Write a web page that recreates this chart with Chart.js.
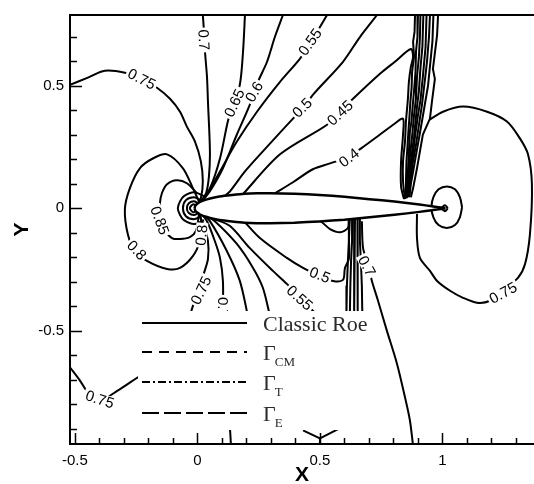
<!DOCTYPE html>
<html>

<head>
    <title>Mach Contours - Classic Roe</title>
    <script src="https://cdn.jsdelivr.net/npm/chart.js"></script>
    <style>
        body {
            margin: 0;
            background: #fff;
        }

        #wrap {
            width: 534px;
            height: 484px;
        }
    </style>
</head>

<body>
    <div id="wrap"><canvas id="contour-chart" width="534" height="484"></canvas></div>

    <script>
        // axis ticks
        const xTickValues = [-0.5, 0, 0.5, 1];
        const yTickValues = [-0.5, 0, 0.5];
        const xMinorTicks = [-0.5, -0.4, -0.3, -0.2, -0.1, 0, 0.1, 0.2, 0.3, 0.4, 0.5, 0.6, 0.7, 0.8, 0.9, 1, 1.1, 1.2, 1.3];
        const yMinorTicks = [-0.9, -0.8, -0.7, -0.6, -0.5, -0.4, -0.3, -0.2, -0.1, 0, 0.1, 0.2, 0.3, 0.4, 0.5, 0.6, 0.7];

        // airfoil stations and half thickness
        const airfoilX = [-0.012, -0.008, 0.001, 0.013, 0.039, 0.065, 0.090, 0.141, 0.192, 0.243, 0.294, 0.396, 0.498, 0.600, 0.702, 0.804, 0.906, 0.957, 1.008];
        const airfoilT = [0, 0.011, 0.019, 0.027, 0.036, 0.043, 0.048, 0.054, 0.059, 0.061, 0.061, 0.059, 0.054, 0.047, 0.037, 0.027, 0.015, 0.008, 0.001];

        // contour lines above the airfoil
        const c075top = [[-0.520, 0.504], [-0.447, 0.533], [-0.378, 0.561], [-0.296, 0.553], [-0.227, 0.528], [-0.165, 0.492], [-0.112, 0.447], [-0.071, 0.394], [-0.043, 0.333], [-0.010, 0.272], [0.014, 0.191], [0.022, 0.110], [0.014, 0.041], [-0.002, 0.016]];
        const c070top = [[0.022, 0.789], [0.027, 0.720], [0.031, 0.638], [0.039, 0.537], [0.043, 0.435], [0.051, 0.232], [0.047, 0.130], [0.035, 0.061], [0.006, 0.018]];
        const c065top = [[0.194, 0.789], [0.186, 0.638], [0.173, 0.504], [0.145, 0.423], [0.124, 0.354], [0.092, 0.203], [0.051, 0.081], [0.010, 0.022]];
        const c060top = [[0.349, 0.789], [0.316, 0.699], [0.284, 0.598], [0.247, 0.516], [0.214, 0.423], [0.161, 0.301], [0.104, 0.163], [0.051, 0.069], [0.014, 0.022]];
        const c055top = [[0.529, 0.789], [0.488, 0.720], [0.459, 0.671], [0.418, 0.610], [0.337, 0.516], [0.243, 0.394], [0.161, 0.272], [0.092, 0.150], [0.039, 0.057], [0.018, 0.026]];
        const c050top = [[0.733, 0.789], [0.663, 0.699], [0.594, 0.598], [0.471, 0.463], [0.431, 0.407], [0.390, 0.366], [0.267, 0.232], [0.194, 0.150], [0.133, 0.069], [0.110, 0.049]];
        const c045top = [[0.182, 0.053], [0.337, 0.220], [0.529, 0.341], [0.582, 0.394], [0.635, 0.447], [0.745, 0.549], [0.806, 0.598], [0.871, 0.650], [0.880, 0.618], [0.871, 0.577], [0.863, 0.516], [0.859, 0.447], [0.851, 0.354], [0.847, 0.272], [0.839, 0.191], [0.839, 0.110], [0.847, 0.037]];
        const c040top = [[0.316, 0.061], [0.390, 0.106], [0.471, 0.159], [0.541, 0.183], [0.618, 0.211], [0.684, 0.256], [0.745, 0.301], [0.806, 0.346], [0.839, 0.366], [0.839, 0.301], [0.831, 0.191], [0.831, 0.089], [0.843, 0.037]];

        // upper shock bundle
        const shock1 = [[0.888, 0.789], [0.886, 0.720], [0.880, 0.679], [0.884, 0.620], [0.876, 0.557], [0.874, 0.490], [0.869, 0.435], [0.865, 0.370], [0.861, 0.313], [0.857, 0.250], [0.853, 0.191], [0.851, 0.110], [0.851, 0.041]];
        const shock2 = [[0.900, 0.789], [0.898, 0.700], [0.892, 0.640], [0.890, 0.557], [0.884, 0.480], [0.880, 0.435], [0.873, 0.350], [0.867, 0.313], [0.861, 0.191], [0.857, 0.110], [0.855, 0.041]];
        const shock3 = [[0.910, 0.789], [0.908, 0.700], [0.904, 0.620], [0.896, 0.537], [0.892, 0.450], [0.884, 0.380], [0.876, 0.293], [0.865, 0.191], [0.861, 0.110], [0.857, 0.045]];
        const shock4 = [[0.922, 0.789], [0.918, 0.659], [0.910, 0.570], [0.904, 0.480], [0.896, 0.415], [0.884, 0.293], [0.871, 0.191], [0.863, 0.110], [0.859, 0.045]];
        const shock5 = [[0.935, 0.789], [0.931, 0.659], [0.920, 0.537], [0.910, 0.440], [0.900, 0.380], [0.888, 0.293], [0.876, 0.191], [0.865, 0.110], [0.861, 0.045]];
        const shock6 = [[0.949, 0.789], [0.945, 0.700], [0.937, 0.600], [0.930, 0.537], [0.916, 0.420], [0.904, 0.340], [0.892, 0.260], [0.880, 0.191], [0.869, 0.110], [0.863, 0.045]];
        const shock7 = [[0.963, 0.789], [0.959, 0.680], [0.949, 0.580], [0.941, 0.500], [0.924, 0.400], [0.912, 0.330], [0.896, 0.240], [0.882, 0.160], [0.871, 0.100], [0.865, 0.045]];
        const shock8 = [[0.982, 0.789], [0.978, 0.707], [0.961, 0.569], [0.969, 0.528], [0.957, 0.435], [0.949, 0.366], [0.920, 0.301], [0.908, 0.232], [0.896, 0.163], [0.880, 0.081], [0.871, 0.045]];

        // trailing edge region
        const c075wake = [[0.949, 0.362], [1.002, 0.394], [1.084, 0.415], [1.182, 0.394], [1.263, 0.354], [1.316, 0.285], [1.349, 0.220], [1.365, 0.098], [1.357, -0.106], [1.337, -0.228], [1.308, -0.285], [1.247, -0.337], [1.194, -0.378], [1.141, -0.386], [1.084, -0.366], [1.031, -0.337], [0.978, -0.297], [0.949, -0.256], [0.908, -0.203], [0.896, -0.122], [0.896, -0.024]];
        const teLoop = [[1.080, 0.004], [1.071, 0.045], [1.051, 0.077], [1.018, 0.089], [0.984, 0.077], [0.963, 0.045], [0.955, 0.004], [0.963, -0.037], [0.984, -0.069], [1.018, -0.081], [1.051, -0.069], [1.071, -0.037], [1.080, 0.004]];
        const teDot = [[1.022, 0], [1.010, 0.012], [0.998, 0], [1.010, -0.012], [1.022, 0]];

        // leading edge rings and loops
        const leRing1 = [[0.027, 0.049], [-0.014, 0.065], [-0.055, 0.049], [-0.071, 0.028], [-0.080, 0], [-0.071, -0.028], [-0.055, -0.049], [-0.014, -0.065], [0.027, -0.049]];
        const leRing2 = [[0.014, 0.033], [-0.014, 0.045], [-0.047, 0.033], [-0.059, 0], [-0.047, -0.033], [-0.014, -0.045], [0.014, -0.033]];
        const leRing3 = [[0.002, 0.020], [-0.014, 0.028], [-0.035, 0.020], [-0.043, 0], [-0.035, -0.020], [-0.014, -0.028], [0.002, -0.020]];
        const leRing4 = [[-0.006, 0.012], [-0.018, 0.016], [-0.031, 0], [-0.018, -0.016], [-0.006, -0.012]];
        const c085 = [[-0.002, 0.061], [-0.043, 0.102], [-0.084, 0.114], [-0.124, 0.098], [-0.145, 0.061], [-0.153, 0.020], [-0.153, -0.033], [-0.137, -0.085], [-0.104, -0.122], [-0.071, -0.126], [-0.031, -0.118], [-0.006, -0.093], [0.006, -0.028]];
        const c080 = [[0.006, 0.028], [-0.018, 0.081], [-0.059, 0.163], [-0.124, 0.220], [-0.182, 0.203], [-0.235, 0.163], [-0.276, 0.081], [-0.296, -0.004], [-0.284, -0.106], [-0.255, -0.175], [-0.206, -0.215], [-0.124, -0.248], [-0.071, -0.244], [-0.018, -0.195], [0.010, -0.134], [0.018, -0.073], [0.010, -0.020]];

        // contour lines below the airfoil
        const c075low = [[0.002, -0.020], [0.022, -0.061], [0.043, -0.134], [0.043, -0.207], [0.027, -0.264], [0.006, -0.329], [-0.018, -0.398], [-0.031, -0.440]];
        const c070low = [[0.010, -0.016], [0.039, -0.053], [0.071, -0.134], [0.092, -0.203], [0.104, -0.297], [0.104, -0.440]];
        const c065low = [[0.018, -0.020], [0.051, -0.053], [0.120, -0.175], [0.173, -0.297], [0.206, -0.440]];
        const c060low = [[0.022, -0.020], [0.071, -0.053], [0.161, -0.146], [0.227, -0.244], [0.267, -0.325], [0.296, -0.440]];
        const c055low = [[0.071, -0.045], [0.133, -0.073], [0.214, -0.163], [0.308, -0.256], [0.365, -0.309], [0.418, -0.366], [0.471, -0.419], [0.490, -0.440]];
        const c050low = [[0.186, -0.049], [0.255, -0.122], [0.365, -0.203], [0.431, -0.244], [0.500, -0.276], [0.553, -0.297], [0.594, -0.293], [0.602, -0.244], [0.618, -0.207], [0.618, -0.114], [0.618, -0.045]];
        const c045low = [[0.418, -0.037], [0.500, -0.053], [0.541, -0.085], [0.582, -0.098], [0.614, -0.081], [0.618, -0.045]];
        const c070right = [[0.671, -0.053], [0.676, -0.163], [0.696, -0.228], [0.712, -0.297], [0.737, -0.378], [0.773, -0.500], [0.814, -0.634], [0.847, -0.772], [0.867, -0.866], [0.880, -0.970]];
        const c075left = [[-0.520, -0.650], [-0.480, -0.703], [-0.447, -0.752], [-0.398, -0.785], [-0.324, -0.744], [-0.243, -0.691], [-0.200, -0.670]];

        // lower shock bundle
        const lowShock1 = [[0.622, -0.041], [0.618, -0.134], [0.614, -0.215], [0.610, -0.317], [0.608, -0.440]];
        const lowShock2 = [[0.633, -0.041], [0.631, -0.134], [0.627, -0.215], [0.624, -0.317], [0.622, -0.440]];
        const lowShock3 = [[0.643, -0.041], [0.641, -0.134], [0.639, -0.215], [0.639, -0.317], [0.639, -0.440]];
        const lowShock4 = [[0.653, -0.041], [0.653, -0.134], [0.653, -0.215], [0.655, -0.317], [0.655, -0.440]];
        const lowShock5 = [[0.663, -0.041], [0.663, -0.134], [0.667, -0.215], [0.671, -0.317], [0.673, -0.440]];

        // pieces peeking out under the legend
        const bottomA = [[0.130, -0.850], [0.137, -0.970]];
        const bottomB = [[0.431, -0.907], [0.500, -0.940], [0.582, -0.898]];
        const bottomC = [[0.500, -0.940], [0.500, -0.970]];

        // contour level labels: text, x, y, angle
        const contourLabels = [
            ['0.75', -0.227, 0.528, 27],
            ['0.7', 0.027, 0.687, 87],
            ['0.65', 0.150, 0.430, -65],
            ['0.6', 0.231, 0.476, -60],
            ['0.55', 0.459, 0.679, -55],
            ['0.5', 0.427, 0.411, -45],
            ['0.45', 0.582, 0.390, -43],
            ['0.4', 0.618, 0.207, -38],
            ['0.85', -0.153, -0.050, 70],
            ['0.8', -0.247, -0.171, 47],
            ['0.8', 0.016, -0.110, -85],
            ['0.75', 0.014, -0.335, -65],
            ['0.7', 0.104, -0.405, 90],
            ['0.55', 0.418, -0.366, 42],
            ['0.5', 0.500, -0.272, 22],
            ['0.7', 0.692, -0.236, 62],
            ['0.75', 1.247, -0.345, -29],
            ['0.75', -0.398, -0.780, 18]
        ];

        // legend entries
        const legendNames = ['Classic Roe', '\u0393', '\u0393', '\u0393'];
        const legendSubs = ['', 'CM', 'T', 'E'];

        const smoothLines = [c075top, c070top, c065top, c060top, c055top, c050top, c045top, c040top,
            c075wake, teLoop, teDot, leRing1, leRing2, leRing3, leRing4, c085, c080,
            c075low, c070low, c065low, c060low, c055low, c050low, c045low, c070right, c075left];
        const sharpLines = [shock1, shock2, shock3, shock4, shock5, shock6, shock7, shock8,
            lowShock1, lowShock2, lowShock3, lowShock4, lowShock5, bottomA, bottomB, bottomC];
        const legendDashes = [[], [10, 7], [8, 3, 2, 3], [17, 5]];

        function toPoints(line) {
            return line.map((p) => ({ x: p[0], y: p[1] }));
        }

        function airfoilPoints() {
            const upper = airfoilX.map((x, i) => ({ x: x, y: airfoilT[i] }));
            const lower = airfoilX.map((x, i) => ({ x: x, y: -airfoilT[i] })).reverse();
            return upper.concat(lower);
        }

        const datasets = [];
        smoothLines.forEach((line) => {
            datasets.push({ data: toPoints(line), tension: 0.3 });
        });
        sharpLines.forEach((line) => {
            datasets.push({ data: toPoints(line), tension: 0 });
        });
        datasets.forEach((ds) => {
            ds.showLine = true;
            ds.borderColor = '#000';
            ds.borderWidth = 2;
            ds.pointRadius = 0;
            ds.fill = false;
        });
        datasets[0].legendIndex = 0;
        for (let i = 1; i < legendNames.length; i++) {
            datasets.push({ data: [], showLine: true, borderColor: '#000', borderWidth: 2, borderDash: legendDashes[i], pointRadius: 0, legendIndex: i });
        }
        datasets.push({
            data: airfoilPoints(), showLine: true, borderColor: '#000', borderWidth: 2.5, pointRadius: 0,
            tension: 0.2, fill: 'shape', backgroundColor: '#fff', order: -1
        });

        const contourLabelPlugin = {
            id: 'contourLabelPlugin',
            afterDatasetsDraw(chart) {
                const { ctx, chartArea, scales: { x, y } } = chart;
                ctx.save();
                ctx.beginPath();
                ctx.rect(chartArea.left, chartArea.top, chartArea.right - chartArea.left, chartArea.bottom - chartArea.top);
                ctx.clip();
                ctx.font = '15px "Liberation Sans", Arial, sans-serif';
                ctx.textAlign = 'center';
                ctx.textBaseline = 'middle';
                contourLabels.forEach(([text, vx, vy, angle]) => {
                    const w = ctx.measureText(text).width;
                    ctx.save();
                    ctx.translate(x.getPixelForValue(vx), y.getPixelForValue(vy));
                    ctx.rotate(angle * Math.PI / 180);
                    ctx.fillStyle = '#fff';
                    ctx.fillRect(-w / 2 - 2, -6, w + 4, 12);
                    ctx.fillStyle = '#000';
                    ctx.fillText(text, 0, 1);
                    ctx.restore();
                });
                ctx.restore();
            }
        };

        const boxLegendPlugin = {
            id: 'boxLegendPlugin',
            afterDatasetsDraw(chart, args, opts) {
                const ctx = chart.ctx;
                const box = opts.box;
                ctx.save();
                ctx.fillStyle = '#fff';
                ctx.fillRect(box[0], box[1], box[2] - box[0], box[3] - box[1]);
                chart.data.datasets.forEach((ds) => {
                    if (ds.legendIndex === undefined) return;
                    const i = ds.legendIndex;
                    const rowY = opts.rows[i];
                    ctx.strokeStyle = ds.borderColor;
                    ctx.lineWidth = ds.borderWidth;
                    ctx.setLineDash(ds.borderDash || []);
                    ctx.beginPath();
                    ctx.moveTo(opts.lineStart, rowY);
                    ctx.lineTo(opts.lineEnd, rowY);
                    ctx.stroke();
                    ctx.setLineDash([]);
                    ctx.fillStyle = '#2b2b2b';
                    ctx.textBaseline = 'alphabetic';
                    ctx.font = '22px "Liberation Serif", "Times New Roman", serif';
                    ctx.fillText(legendNames[i], opts.textX, rowY + 8);
                    if (legendSubs[i]) {
                        const w = ctx.measureText(legendNames[i]).width;
                        ctx.font = '13px "Liberation Serif", "Times New Roman", serif';
                        ctx.fillText(legendSubs[i], opts.textX + w - 1, rowY + 14);
                    }
                });
                ctx.restore();
            }
        };

        const frameTicksPlugin = {
            id: 'frameTicksPlugin',
            afterDraw(chart) {
                const { ctx, chartArea: { left, top, right, bottom }, scales: { x, y } } = chart;
                ctx.save();
                ctx.strokeStyle = '#000';
                ctx.lineWidth = 2;
                ctx.beginPath();
                ctx.moveTo(right + 2, top);
                ctx.lineTo(left, top);
                ctx.lineTo(left, bottom);
                ctx.lineTo(right + 2, bottom);
                ctx.stroke();
                ctx.lineWidth = 1.5;
                ctx.beginPath();
                xMinorTicks.forEach((v) => {
                    const px = Math.round(x.getPixelForValue(v)) + 0.5;
                    const len = xTickValues.some((t) => Math.abs(t - v) < 1e-6) ? 11 : 6;
                    ctx.moveTo(px, bottom);
                    ctx.lineTo(px, bottom - len);
                });
                yMinorTicks.forEach((v) => {
                    const py = Math.round(y.getPixelForValue(v)) + 0.5;
                    const len = yTickValues.some((t) => Math.abs(t - v) < 1e-6) ? 12 : 7;
                    ctx.moveTo(left, py);
                    ctx.lineTo(left + len, py);
                });
                ctx.stroke();
                ctx.restore();
            }
        };

        const tickFont = { family: '"Liberation Sans", Arial, sans-serif', size: 15 };
        const titleFont = { family: '"Liberation Sans", Arial, sans-serif', size: 21, weight: 'bold', lineHeight: 1 };

        new Chart(document.getElementById('contour-chart').getContext('2d'), {
            type: 'scatter',
            data: { datasets: datasets },
            options: {
                responsive: false,
                animation: false,
                layout: { padding: { top: 13, right: 0, bottom: 0, left: 0 } },
                scales: {
                    x: {
                        type: 'linear',
                        min: -0.52,
                        max: 1.3735,
                        afterBuildTicks: (scale) => { scale.ticks = xTickValues.map((v) => ({ value: v })); },
                        afterFit: (scale) => { scale.height = 40; },
                        grid: { display: false, drawTicks: false },
                        border: { display: false },
                        ticks: { color: '#000', font: tickFont, padding: 8, maxRotation: 0, callback: (v) => String(v) },
                        title: { display: true, text: 'X', color: '#000', font: titleFont, padding: { top: 0, bottom: -2 } }
                    },
                    y: {
                        type: 'linear',
                        min: -0.963,
                        max: 0.789,
                        afterBuildTicks: (scale) => { scale.ticks = yTickValues.map((v) => ({ value: v })); },
                        afterFit: (scale) => { scale.width = 70; },
                        grid: { display: false, drawTicks: false },
                        border: { display: false },
                        ticks: { color: '#000', font: tickFont, padding: 6, callback: (v) => String(v) },
                        title: { display: true, text: 'Y', color: '#000', font: titleFont, padding: { top: 12, bottom: 0 } }
                    }
                },
                plugins: {
                    legend: { display: false },
                    tooltip: { enabled: false },
                    boxLegendPlugin: { box: [138, 311, 372, 430], rows: [323, 352, 382, 413], lineStart: 142, lineEnd: 247, textX: 263 }
                }
            },
            plugins: [contourLabelPlugin, boxLegendPlugin, frameTicksPlugin]
        });
    </script>
</body>

</html>
